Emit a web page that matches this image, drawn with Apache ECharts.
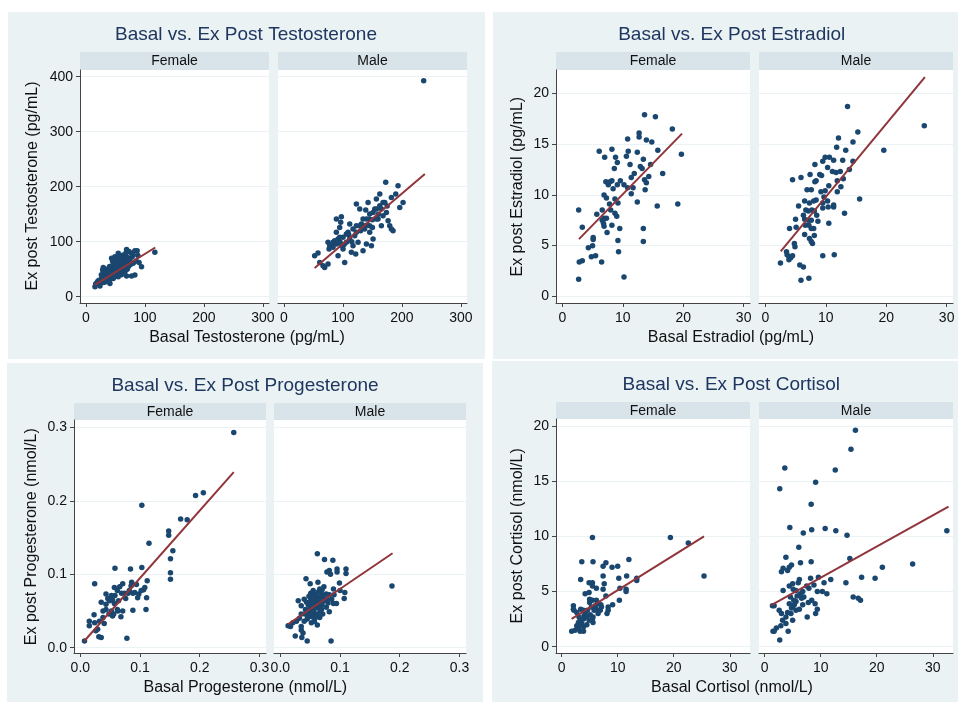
<!DOCTYPE html>
<html><head><meta charset="utf-8">
<script src="https://cdn.jsdelivr.net/npm/echarts@6/dist/echarts.min.js"></script>
<style>html,body{margin:0;padding:0;background:#fff}#c{width:958px;height:702px}</style>
</head><body><div id="c"></div>
<script>
// ---------------- DATA ----------------
const facetNames = ['Female', 'Male'];
const titles = ['Basal vs. Ex Post Testosterone', 'Basal vs. Ex Post Estradiol', 'Basal vs. Ex Post Progesterone', 'Basal vs. Ex Post Cortisol'];
const xTitles = ['Basal Testosterone (pg/mL)', 'Basal Estradiol (pg/mL)', 'Basal Progesterone (nmol/L)', 'Basal Cortisol (nmol/L)'];
const yTitles = ['Ex post Testosterone (pg/mL)', 'Ex post Estradiol (pg/mL)', 'Ex post Progesterone (nmol/L)', 'Ex post Cortisol (nmol/L)'];

const testoXTicks = [0, 100, 200, 300];
const testoYTicks = [0, 100, 200, 300, 400];
const estraXTicks = [0, 10, 20, 30];
const estraYTicks = [0, 5, 10, 15, 20];
const progXTicks = [0, 0.1, 0.2, 0.3];
const progYTicks = [0, 0.1, 0.2, 0.3];
const cortXTicks = [0, 10, 20, 30];
const cortYTicks = [0, 5, 10, 15, 20];

const testoF = [[15.2,18.2],[16.4,23],[23.7,24.2],[26.5,33.3],[28.2,48.5],[29.3,53.3],[33.8,27.3],[37.8,36.4],[40.6,24.2],[46.2,33.3],[51.9,42.4],[49,54.5],[43.4,69.7],[46.2,60.6],[49,72.7],[54.7,69.7],[57.5,54.5],[60.3,66.7],[63.2,75.8],[66,60.6],[68.8,72.7],[71.6,54.5],[74.4,66.7],[77.3,78.8],[68.8,86],[82.9,83.6],[86.8,83.6],[80.1,60.6],[82.9,39.4],[77.3,37.6],[68.8,37.6],[66,45.5],[54.7,36.4],[57.5,45.5],[116.8,80.6],[94.2,54.5],[54.7,78.8],[51.9,60.6],[40.6,48.5],[35,42.4],[32.1,30.3],[23.7,19.4],[43.4,45.5],[20,28],[25,30],[28,35],[30,26],[32,40],[35,32],[38,45],[40,30],[42,38],[44,52],[45,42],[48,36],[50,48],[52,58],[53,50],[55,62],[56,44],[58,65],[60,58],[62,52],[63,68],[65,72],[67,56],[70,64],[72,70],[75,58],[78,72],[80,76],[85,65],[88,75],[35,50],[30,45],[26,40],[22,30],[18,25],[60,40],[64,46],[70,50],[45,65],[50,68],[40,55],[58,74],[68,80],[73,82],[90,62]];
const testoM = [[237,392.7],[52,74.5],[57.7,79.4],[60.6,62.4],[66.2,56.4],[69,53.3],[74.7,59.4],[76.4,86.7],[80.4,92.7],[83.2,98.8],[86,101.8],[88.8,141.2],[91.7,74.5],[94.5,126],[96.2,135.2],[97.3,145.5],[97.3,92.7],[100.2,86.7],[103,62.4],[105.8,98.8],[108.7,117],[111.5,132],[114.3,80.6],[117.1,92.7],[120,111],[121.7,77.6],[122.8,168.5],[125.6,98.8],[128.5,159.4],[131.3,132],[134.1,83.6],[136.9,123],[138.7,157.6],[139.8,95.8],[142.6,171.5],[144.3,141.2],[145.4,117],[148.3,92.7],[150,126],[151.1,104.8],[154,159.4],[156.7,177.6],[159.6,141.2],[162.5,186.7],[165.2,129],[168,147],[171,171.5],[172.6,207.9],[173.7,153.3],[176.6,138.2],[179.4,129],[182.2,123],[185,120],[182.2,180.6],[189.6,186.7],[193.5,201.8],[196.4,162.4],[202,171.5],[74.7,98.8],[77.5,92.7],[83.2,89.7],[88.8,95.8],[91.7,104.8],[94.5,107.9],[100.2,107.9],[105.8,113.9],[111.5,104.8],[117.1,123],[122.8,117],[128.5,129],[134.1,141.2],[139.8,141.2],[145.4,150.3],[151.1,153.3],[156.8,159.4],[162.5,165.5],[168,171.5],[122.8,129],[134.1,129],[145.4,129],[156.8,141.2],[88.8,117],[95,100],[102,95],[110,112],[115,100],[130,120],[140,130],[150,140],[160,150],[165,160],[175,165]];
const testoFitF = [[15.2,21.5],[117.5,89.5]];
const testoFitM = [[52,52],[239,223]];

const estraF = [[13.6,17.9],[15.4,17.7],[18.2,16.5],[19.7,14.0],[19.1,9.1],[15.7,8.9],[16.6,12.1],[15.8,14.4],[14.8,15.2],[13.9,15.4],[12.7,16.1],[12.7,15.7],[10.8,15.5],[10.9,14.3],[10.6,13.8],[12.4,14.2],[8.2,14.5],[6.1,14.3],[7.0,13.7],[8.8,13.7],[9.1,13.2],[8.6,12.6],[11.2,13.0],[13.4,13.5],[12.9,12.8],[13.2,12.6],[14.6,13.0],[14.3,11.8],[13.6,11.5],[13.9,11.2],[13.7,10.5],[11.9,12.1],[11.4,11.7],[11.7,10.7],[11.4,10.1],[10.8,10.7],[10.2,11.0],[9.6,11.4],[9.1,11.0],[8.2,11.4],[7.9,11.3],[7.2,11.3],[7.6,11.0],[8.4,10.6],[6.9,10.0],[7.3,9.7],[8.7,9.6],[7.8,9.1],[9.2,9.2],[8.0,8.5],[8.7,8.2],[9.0,7.9],[6.6,8.5],[5.7,8.1],[6.9,7.7],[7.3,7.7],[6.6,7.5],[6.8,7.2],[6.9,6.9],[7.4,6.3],[8.2,7.0],[9.5,6.7],[12.4,9.3],[13.4,6.7],[13.4,5.4],[9.2,5.5],[9.3,4.4],[10.2,1.9],[2.7,8.5],[3.3,6.8],[5.1,5.8],[5.1,5.6],[4.3,4.8],[5.0,5.0],[4.8,3.9],[5.5,4.0],[6.5,3.4],[2.8,3.4],[3.3,3.5],[2.7,1.7]];
const estraM = [[13.6,18.7],[26.3,16.8],[19.6,14.4],[15.3,16.2],[14.5,15.2],[12.1,15.6],[11.8,14.7],[13.3,14.4],[14.5,13.3],[13.9,12.5],[12.8,13.4],[11.3,13.4],[10.6,13.7],[9.9,13.7],[9.5,13.3],[8.2,13.0],[10.3,12.7],[11.1,12.3],[11.7,12.2],[12.4,12.3],[12.9,11.6],[11.9,11.4],[12.5,10.8],[11.9,10.3],[10.5,10.9],[9.9,10.4],[9.7,9.8],[9.2,10.3],[9.0,12.0],[9.3,11.9],[7.4,12.0],[8.2,11.3],[8.4,11.4],[7.6,10.5],[6.9,10.5],[5.9,11.7],[4.5,11.5],[8.4,9.5],[8.0,9.4],[7.3,9.2],[6.5,9.4],[10.3,9.4],[11.3,9.0],[11.3,8.8],[10.4,8.8],[9.5,8.7],[9.5,9.2],[15.6,9.6],[13.1,8.2],[5.5,8.9],[6.7,8.5],[7.1,8.4],[7.7,8.5],[8.1,8.4],[6.3,8.0],[6.5,7.6],[7.1,7.5],[7.6,7.5],[8.7,7.4],[8.5,8.0],[5.0,7.6],[6.6,7.0],[7.2,7.0],[7.6,6.7],[8.0,6.7],[10.5,7.2],[5.1,6.8],[4.0,6.7],[6.5,6.1],[8.1,6.0],[7.3,5.7],[7.6,5.4],[7.8,5.2],[4.8,5.2],[4.9,4.9],[3.5,4.4],[3.6,4.1],[3.9,3.9],[4.2,3.8],[4.5,4.0],[3.9,3.6],[2.5,3.3],[9.5,4.0],[11.4,4.1],[5.7,3.1],[6.3,2.9],[5.9,1.6],[7.2,1.8]];
const estraFitF = [[2.75,5.64],[19.8,16.03]];
const estraFitM = [[2.54,4.43],[26.4,21.6]];

const progF = [[0.257,0.293],[0.206,0.211],[0.193,0.207],[0.103,0.194],[0.168,0.175],[0.179,0.174],[0.148,0.159],[0.148,0.153],[0.115,0.142],[0.155,0.132],[0.151,0.121],[0.151,0.102],[0.151,0.093],[0.103,0.109],[0.084,0.107],[0.058,0.108],[0.024,0.087],[0.112,0.091],[0.110,0.052],[0.086,0.089],[0.094,0.086],[0.085,0.084],[0.071,0.087],[0.066,0.083],[0.082,0.078],[0.080,0.074],[0.088,0.074],[0.091,0.075],[0.098,0.073],[0.102,0.078],[0.106,0.079],[0.108,0.082],[0.111,0.068],[0.096,0.068],[0.088,0.051],[0.069,0.074],[0.062,0.078],[0.058,0.071],[0.052,0.071],[0.043,0.073],[0.046,0.067],[0.035,0.062],[0.049,0.064],[0.054,0.065],[0.064,0.064],[0.076,0.067],[0.074,0.074],[0.057,0.060],[0.062,0.052],[0.071,0.050],[0.068,0.042],[0.063,0.050],[0.052,0.050],[0.054,0.043],[0.048,0.046],[0.043,0.052],[0.038,0.050],[0.038,0.041],[0.040,0.033],[0.032,0.036],[0.029,0.025],[0.031,0.015],[0.035,0.014],[0.026,0.023],[0.023,0.045],[0.015,0.036],[0.015,0.030],[0.024,0.034],[0.007,0.009],[0.078,0.013],[0.056,0.046],[0.043,0.059],[0.057,0.082]];
const progM = [[0.062,0.128],[0.074,0.120],[0.088,0.119],[0.078,0.103],[0.082,0.105],[0.095,0.107],[0.095,0.103],[0.110,0.107],[0.110,0.101],[0.084,0.100],[0.043,0.094],[0.187,0.084],[0.099,0.088],[0.108,0.075],[0.107,0.067],[0.089,0.080],[0.063,0.089],[0.050,0.087],[0.055,0.078],[0.051,0.074],[0.057,0.073],[0.066,0.080],[0.069,0.073],[0.073,0.083],[0.077,0.073],[0.082,0.072],[0.089,0.060],[0.094,0.060],[0.030,0.064],[0.035,0.057],[0.040,0.066],[0.044,0.062],[0.047,0.058],[0.055,0.064],[0.060,0.064],[0.066,0.062],[0.074,0.064],[0.077,0.055],[0.082,0.049],[0.069,0.052],[0.063,0.054],[0.056,0.050],[0.051,0.050],[0.045,0.048],[0.041,0.046],[0.035,0.046],[0.032,0.040],[0.046,0.041],[0.053,0.042],[0.060,0.043],[0.066,0.041],[0.057,0.036],[0.052,0.034],[0.062,0.031],[0.045,0.039],[0.040,0.036],[0.027,0.036],[0.021,0.034],[0.013,0.030],[0.017,0.029],[0.035,0.029],[0.035,0.024],[0.038,0.020],[0.025,0.016],[0.036,0.014],[0.045,0.009],[0.085,0.009],[0.071,0.046],[0.051,0.065],[0.060,0.071],[0.048,0.070],[0.052,0.060],[0.058,0.055],[0.060,0.058],[0.065,0.068],[0.068,0.062],[0.070,0.058],[0.055,0.048],[0.050,0.055],[0.062,0.046],[0.067,0.050],[0.072,0.068],[0.058,0.067],[0.054,0.070],[0.064,0.076],[0.070,0.079],[0.078,0.066],[0.080,0.061],[0.042,0.052],[0.048,0.044],[0.058,0.040],[0.064,0.056],[0.086,0.066],[0.090,0.072],[0.100,0.078]];
const progFitF = [[0.0067,0.0091],[0.257,0.239]];
const progFitM = [[0.0128,0.0319],[0.188,0.1286]];

const cortF = [[5.5,9.9],[19.4,9.9],[22.6,9.4],[25.4,6.4],[3.6,7.7],[5.6,7.7],[7.9,7.6],[7.4,7.3],[9.0,7.2],[10.0,7.3],[12.0,7.9],[7.4,6.4],[10.2,6.2],[11.6,6.4],[13.4,6.2],[13.4,6.0],[3.4,6.1],[4.9,5.8],[5.5,5.8],[6.2,5.3],[7.6,5.7],[7.4,5.2],[4.2,4.8],[4.9,4.9],[5.5,5.5],[10.4,5.3],[11.5,5.2],[11.5,5.0],[10.3,4.2],[7.9,4.6],[9.1,3.8],[5.0,4.3],[5.5,4.2],[6.2,4.2],[5.0,4.0],[6.4,3.9],[7.1,3.6],[8.3,3.6],[8.3,3.3],[8.1,3.0],[6.9,3.3],[6.2,3.4],[5.8,3.3],[5.3,3.6],[4.6,3.3],[3.9,3.3],[3.4,3.4],[2.7,3.1],[2.1,3.7],[2.1,3.4],[2.2,3.3],[5.1,2.9],[4.5,2.7],[5.6,2.7],[3.9,2.5],[3.3,2.4],[4.9,2.4],[5.6,2.2],[3.6,2.1],[2.7,1.9],[3.0,1.7],[3.9,1.8],[2.4,1.5],[1.8,1.4],[3.3,1.4],[3.9,1.4],[3.1,2.7],[4.2,3.0],[3.5,2.0],[4.5,2.0],[5.5,2.5],[6.5,3.0],[7.0,3.8],[4.0,2.8],[3.0,2.2],[6.0,3.7]];
const cortM = [[16.2,19.6],[15.4,17.9],[3.6,16.2],[12.6,16.0],[9.1,14.9],[2.7,14.3],[8.3,12.9],[4.5,10.8],[8.4,10.6],[10.8,10.7],[12.7,10.5],[14.7,10.1],[6.9,10.3],[32.5,10.5],[6.1,9.0],[15.2,8.0],[3.8,8.1],[8.3,7.7],[6.4,7.6],[4.8,7.4],[4.4,7.2],[3.3,7.1],[3.0,6.8],[4.1,6.9],[26.4,7.5],[21.0,7.2],[19.7,6.2],[17.3,6.3],[11.8,6.1],[14.5,5.8],[9.6,6.3],[8.2,6.2],[6.2,6.1],[6.0,5.8],[10.6,5.8],[3.3,5.1],[4.4,5.5],[5.0,5.7],[5.1,5.2],[5.6,5.1],[7.5,5.5],[7.9,5.3],[6.8,5.0],[9.4,5.0],[10.3,5.0],[11.1,4.8],[15.8,4.5],[16.7,4.4],[17.1,4.2],[6.6,4.4],[7.8,4.0],[8.4,4.2],[9.0,3.9],[9.4,3.4],[9.1,3.0],[7.6,2.7],[4.4,3.9],[5.0,3.6],[5.6,3.3],[6.2,3.4],[4.7,3.0],[4.1,3.1],[3.0,3.0],[2.6,3.3],[1.4,3.7],[1.7,3.7],[5.0,2.4],[3.2,2.4],[3.8,2.1],[2.9,1.9],[2.1,1.7],[1.7,1.4],[1.5,1.4],[4.2,1.4],[2.7,0.6],[3.8,2.7],[5.6,4.1],[6.8,3.8],[4.8,3.5],[5.3,3.8],[5.8,4.6],[6.4,4.8],[4.6,4.5],[5.2,4.2],[7.0,4.5],[8.8,5.6]];
const cortFitF = [[1.78,2.52],[25.4,10.0]];
const cortFitM = [[1.2,3.76],[32.8,12.7]];

// ---------------- LAYOUT / STYLE ----------------
const FONT = '"Liberation Sans", Arial, Helvetica, sans-serif';
const BG = '#eaf2f3', STRIP = '#d8e4ea', NAVY = '#1a476f', MAROON = '#90353b', TCOL = '#1f3660', AXC = '#444';

const panels = [
  { bg:[8,12,477,347], title:[246,35], xt:[247,338], yt:[33,186], top:70, h:233, stripTop:52,
    lefts:[80,278], w:189, xr:[-10.2,310.5], yr:[-11.45,412.2], xt2:testoXTicks, yt2:testoYTicks, dec:0,
    data:[testoF,testoM], fit:[testoFitF,testoFitM] },
  { bg:[493,12,465,347], title:[731.7,35], xt:[731,337.7], yt:[518,186.7], top:70, h:233, stripTop:52,
    lefts:[556,759], w:194, xr:[-1.05,31.05], yr:[-0.65,22.3], xt2:estraXTicks, yt2:estraYTicks, dec:0,
    data:[estraF,estraM], fit:[estraFitF,estraFitM] },
  { bg:[7,363,476,339], title:[245,385.7], xt:[245.3,687.7], yt:[32,536.7], top:420, h:233, stripTop:403,
    lefts:[74,274], w:192, xr:[-0.0106,0.311], yr:[-0.0072,0.3099], xt2:progXTicks, yt2:progYTicks, dec:1,
    data:[progF,progM], fit:[progFitF,progFitM] },
  { bg:[492,361,466,341], title:[731.3,384.3], xt:[732,687.3], yt:[517.7,535.8], top:419, h:234, stripTop:402,
    lefts:[556,759], w:194, xr:[-1.0,33.6], yr:[-0.57,20.63], xt2:cortXTicks, yt2:cortYTicks, dec:0,
    data:[cortF,cortM], fit:[cortFitF,cortFitM] }
];

const grid = [], xAxis = [], yAxis = [], series = [], graphic = [];
panels.forEach((p, pi) => {
  graphic.push({ type:'rect', z:-10, shape:{x:p.bg[0], y:p.bg[1], width:p.bg[2], height:p.bg[3]}, style:{fill:BG} });
  graphic.push({ type:'text', x:p.title[0], y:p.title[1], style:{text:titles[pi], align:'center', verticalAlign:'middle', font:'19px ' + FONT, fill:TCOL} });
  graphic.push({ type:'text', x:p.xt[0], y:p.xt[1], style:{text:xTitles[pi], align:'center', verticalAlign:'middle', font:'16px ' + FONT, fill:'#111'} });
  graphic.push({ type:'text', x:p.yt[0], y:p.yt[1], rotation:Math.PI/2, style:{text:yTitles[pi], align:'center', verticalAlign:'middle', font:'16px ' + FONT, fill:'#111'} });
  const fmt = v => p.dec ? Number(v).toFixed(1) : String(Math.round(v));
  for (let f = 0; f < 2; f++) {
    const gi = grid.length;
    const left = p.lefts[f];
    grid.push({ left:left, top:p.top, width:p.w, height:p.h, show:true, backgroundColor:'#fff', borderWidth:0, containLabel:false });
    graphic.push({ type:'rect', shape:{x:left, y:p.stripTop, width:p.w, height:p.top - p.stripTop}, style:{fill:STRIP} });
    graphic.push({ type:'text', x:left + p.w/2, y:p.stripTop + (p.top - p.stripTop)/2 + 0.5, style:{text:facetNames[f], align:'center', verticalAlign:'middle', font:'14px ' + FONT, fill:'#111'} });
    xAxis.push({ type:'value', gridIndex:gi, min:p.xr[0], max:p.xr[1],
      axisLine:{show:true, onZero:false, lineStyle:{color:AXC, width:1}},
      axisTick:{show:true, length:4, customValues:p.xt2, lineStyle:{color:AXC, width:1}},
      axisLabel:{show:true, customValues:p.xt2, formatter:fmt, margin:8, color:'#111', fontSize:14, fontFamily:FONT},
      splitLine:{show:false} });
    yAxis.push({ type:'value', gridIndex:gi, min:p.yr[0], max:p.yr[1],
      axisLine:{show:f === 0, onZero:false, lineStyle:{color:AXC, width:1}},
      axisTick:{show:f === 0, length:4, customValues:p.yt2, lineStyle:{color:AXC, width:1}},
      axisLabel:{show:f === 0, customValues:p.yt2, formatter:fmt, margin:7, color:'#111', fontSize:14, fontFamily:FONT},
      splitLine:{show:true, lineStyle:{color:BG, width:1.2}} });
    series.push({ type:'scatter', xAxisIndex:gi, yAxisIndex:gi, data:p.data[f], symbol:'circle', symbolSize:5.5,
      itemStyle:{color:NAVY, opacity:1}, silent:true, z:2 });
    series.push({ type:'line', xAxisIndex:gi, yAxisIndex:gi, data:p.fit[f], showSymbol:false, symbol:'none',
      lineStyle:{color:MAROON, width:2}, silent:true, z:3 });
  }
});

const chart = echarts.init(document.getElementById('c'), null, {renderer:'canvas'});
chart.setOption({ animation:false, backgroundColor:'#fff', grid, xAxis, yAxis, series, graphic });
</script></body></html>
